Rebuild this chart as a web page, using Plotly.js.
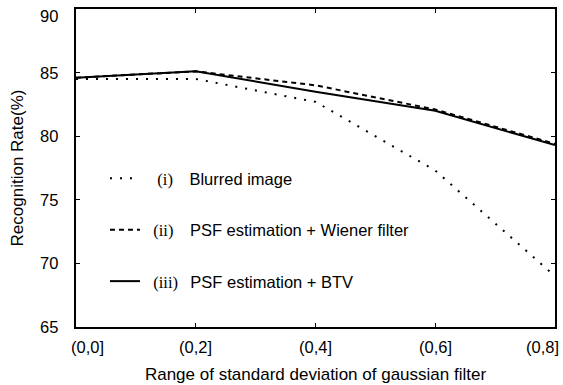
<!DOCTYPE html>
<html>
<head>
<meta charset="utf-8">
<script src="https://cdn.plot.ly/plotly-3.0.1.min.js"></script>
<style>html,body{margin:0;padding:0;background:#fff;}#chart{width:563px;height:385px;}</style>
</head>
<body>
<div id="chart"></div>
<script>
const categories = ["(0,0]", "(0,2]", "(0,4]", "(0,6]", "(0,8]"];
const blurred = [84.5, 84.5, 82.7, 77.3, 69.0];
const wiener = [84.6, 85.1, 84.0, 82.1, 79.4];
const btv = [84.6, 85.1, 83.5, 82.0, 79.3];
const yTicks = [65, 70, 75, 80, 85, 90];

const FS = 16.5;
const NB = "\u00a0";
function label(roman, text, pre, post) {
  return '<span style="font-family:\'Liberation Serif\', \'Times New Roman\', serif">' +
    NB.repeat(pre) + roman + NB.repeat(post) + '</span>' + text;
}

const xs = categories.map((c, i) => i);

const traces = [
  {x: xs, y: blurred, name: label("(i)", "Blurred image", 3, 4), mode: "lines",
   line: {color: "#000", width: 2, dash: "2px,8px"}, legendgroup: "a"},
  {x: xs, y: wiener, name: label("(ii)", "PSF estimation + Wiener filter", 2, 4), mode: "lines",
   line: {color: "#000", width: 2, dash: "5px,4px"}, legendgroup: "b"},
  {x: xs, y: btv, name: label("(iii)", "PSF estimation + BTV", 2, 3), mode: "lines",
   line: {color: "#000", width: 2}, legendgroup: "c"}
];

const annotations = [];
categories.forEach((c, i) => {
  const last = categories.length - 1;
  annotations.push({
    xref: "x", yref: "paper", x: i, y: 0, text: c, showarrow: false,
    xanchor: i === 0 ? "left" : (i === last ? "right" : "center"),
    xshift: i === 0 ? -7 : (i === last ? 6 : 0),
    yanchor: "middle", yshift: -20, font: {size: FS}
  });
});
yTicks.forEach((v, i) => {
  annotations.push({
    xref: "paper", yref: "y", x: 0, y: v, text: String(v), showarrow: false,
    xanchor: "right", xshift: -16, yanchor: "middle",
    yshift: v === 90 ? -7 : 0, font: {size: FS}
  });
});

const layout = {
  width: 563, height: 385,
  margin: {l: 76, r: 8, t: 9, b: 58},
  paper_bgcolor: "#fff", plot_bgcolor: "#fff",
  font: {family: "'Liberation Sans', Arial, sans-serif", color: "#000", size: FS},
  showlegend: true,
  legend: {x: 0.0605, y: 0.522, xanchor: "left", yanchor: "top", bgcolor: "rgba(0,0,0,0)",
           traceorder: "grouped", tracegroupgap: 27, font: {size: FS}},
  annotations: annotations,
  xaxis: {
    range: [0, 4], tickvals: xs, showticklabels: false,
    showline: true, linecolor: "#000", linewidth: 2, mirror: "ticks",
    ticks: "inside", ticklen: 4, tickwidth: 1, tickcolor: "#000",
    showgrid: false, zeroline: false,
    title: {text: "Range of standard deviation of gaussian filter", font: {size: 17}, standoff: 40}
  },
  yaxis: {
    range: [65, 90], tickvals: yTicks, showticklabels: false,
    showline: true, linecolor: "#000", linewidth: 2, mirror: "ticks",
    ticks: "inside", ticklen: 4, tickwidth: 1, tickcolor: "#000",
    showgrid: false, zeroline: false,
    title: {text: "Recognition Rate(%)", font: {size: 17}, standoff: 46}
  }
};

Plotly.newPlot("chart", traces, layout, {displayModeBar: false, staticPlot: true});
</script>
</body>
</html>
